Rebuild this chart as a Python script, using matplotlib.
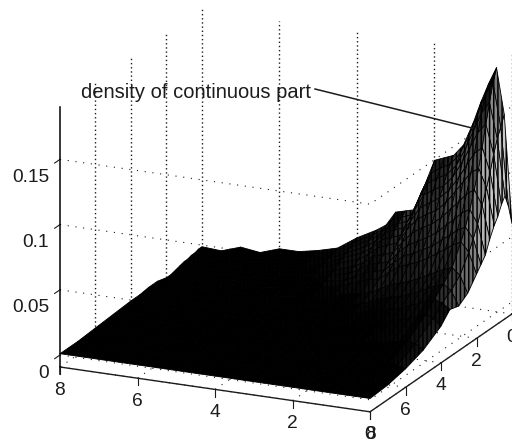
import numpy as np
import matplotlib
matplotlib.use('Agg')
import matplotlib.pyplot as plt
from matplotlib.lines import Line2D
from mpl_toolkits.mplot3d import proj3d

plt.rcParams['font.family'] = ['Liberation Sans', 'DejaVu Sans']
plt.rcParams['hatch.linewidth'] = 1.1

W, H = 512, 445

x_nodes = [0, .2, .4, .6, .8, 1, 1.25, 1.5, 1.75, 2, 2.25, 2.5, 2.75, 3, 3.25, 3.5, 4, 4.5, 5, 5.5, 6, 6.5, 7, 7.5, 8]
y_nodes = [0, .2, .4, .6, .8, 1, 1.25, 1.5, 1.75, 2, 2.5, 3, 3.5, 4, 5, 6, 7, 8]

# density, in thousandths, one row per y node
density = [
    [60, 143, 178, 165, 150, 133, 115, 106, 103, 100, 80, 60, 58, 56, 45, 40, 32, 22, 18, 15, 15, 10, 12, 7, 8],
    [75, 135, 168, 158, 142, 126, 110, 101, 97, 92, 76, 58, 55, 52, 43, 38, 30, 21, 17, 14, 13, 10, 11, 7, 8],
    [85, 128, 155, 146, 132, 118, 103, 95, 91, 86, 71, 55, 52, 49, 41, 36, 28, 20, 16, 13, 12, 9, 10, 7, 7],
    [80, 118, 140, 133, 121, 109, 96, 88, 84, 79, 66, 52, 49, 46, 38, 33, 26, 19, 15, 12, 11, 9, 9, 6, 7],
    [73, 106, 124, 119, 109, 99, 88, 81, 76, 71, 60, 48, 45, 42, 35, 30, 24, 17, 14, 11, 10, 8, 8, 6, 6],
    [68, 96, 110, 106, 98, 90, 80, 73, 69, 64, 55, 44, 41, 38, 32, 27, 22, 16, 13, 10, 9, 8, 7, 6, 6],
    [60, 85, 96, 92, 85, 79, 71, 65, 61, 56, 48, 39, 36, 34, 28, 24, 19, 14, 11, 9, 8, 7, 6, 5, 5],
    [50, 73, 83, 80, 74, 69, 62, 57, 53, 49, 42, 34, 32, 30, 25, 21, 17, 12, 10, 8, 7, 6, 5, 4, 4],
    [45, 64, 72, 69, 64, 60, 54, 50, 46, 43, 37, 30, 28, 26, 22, 18, 15, 11, 9, 7, 6, 5, 5, 4, 3],
    [40, 56, 63, 60, 56, 52, 47, 43, 40, 37, 32, 26, 24, 22, 19, 16, 13, 10, 8, 6, 6, 5, 4, 4, 3],
    [30, 43, 48, 46, 43, 40, 36, 33, 30, 28, 24, 20, 18, 17, 15, 12, 10, 8, 6, 5, 5, 4, 4, 3, 5],
    [25, 36, 40, 38, 35, 32, 29, 26, 24, 22, 19, 16, 15, 14, 12, 10, 8, 6, 5, 4, 4, 3, 3, 3, 5],
    [27, 31, 33, 31, 28, 26, 23, 21, 19, 18, 15, 13, 12, 11, 9, 8, 6, 5, 4, 3, 3, 3, 3, 3, 4],
    [19, 24, 26, 24, 22, 20, 18, 16, 15, 14, 12, 10, 9, 8, 7, 6, 5, 4, 3, 3, 3, 2, 2, 3, 4],
    [10, 14, 15, 14, 13, 12, 11, 10, 9, 8, 7, 6, 5, 5, 4, 4, 3, 2, 2, 2, 2, 2, 2, 2, 3],
    [5, 7, 8, 7, 7, 6, 6, 5, 5, 4, 4, 3, 3, 3, 2, 2, 2, 2, 1, 1, 1, 1, 1, 2, 2],
    [2, 3, 3, 3, 3, 3, 3, 2, 2, 2, 2, 2, 2, 1, 1, 1, 1, 1, 1, 1, 1, 1, 1, 1, 1],
    [1, 1, 1, 1, 1, 1, 1, 1, 1, 1, 1, 1, 1, 1, 1, 1, 1, 1, 1, 1, 1, 1, 1, 1, 1],
]

ticks = [0, 2, 4, 6, 8]
z_ticks = [0, .05, .1, .15]
z_labels = ['0', '0.05', '0.1', '0.15']
zlo, zhi = -.0092, .19

col = '#1c1c1c'
fs = 13.8

X, Y = np.meshgrid(x_nodes, y_nodes)
Z = np.array(density) / 1000.

fig = plt.figure(figsize=(W/100, H/100), dpi=100)
ax = fig.add_axes([0, 0, 1, 1], projection='3d', proj_type='ortho', computed_zorder=False)
ax.view_init(elev=18.4, azim=114.6)
ax.set_box_aspect((340, 340, 273))
ax.set_xlim(0, 8)
ax.set_ylim(0, 8)
ax.set_zlim(zlo, zhi)
ax.set_axis_off()
ax.patch.set_alpha(0)

# grid, vertical lines on the back walls
for t in ticks:
    if t < 8:
        ax.plot([8, 8], [t, t], [zlo, zhi], color=col, lw=1, ls=(0, (1, 2)), zorder=1)
        ax.plot([t, t], [0, 0], [zlo, zhi], color=col, lw=1, ls=(0, (1, 2)), zorder=1)
    ax.plot([0, 8], [t, t], [zlo, zlo], color=col, lw=.8, ls=(0, (1, 6)), zorder=1)
    ax.plot([t, t], [0, 8], [zlo, zlo], color=col, lw=.8, ls=(0, (1, 6)), zorder=1)

for z in z_ticks:
    ax.plot([8, 0, 0], [8, 8, 0], [z, z, z], color=col, lw=.8, ls=(0, (1, 6)), zorder=1)
    ax.plot([8, 8], [8, 8.3], [z, z], color=col, lw=.8, zorder=3)

# mesh, dense in the picture so only the steep part shows any light
dz_y, dz_x = np.gradient(Z, y_nodes, x_nodes)
tone = np.clip(np.hypot(dz_x, dz_y) * 6 - .06, 0, .8) * (1 - (Z / Z.max())**4)
surf = ax.plot_surface(X, Y, Z, facecolors=plt.cm.gray(tone), edgecolor='k', linewidth=.6,
                       rstride=1, cstride=1, shade=False, zorder=2)
surf.set_hatch('||||')

# box
ax.plot([8, 0, 0], [8, 8, 0], [zlo, zlo, zlo], color=col, lw=1, zorder=3)
ax.plot([8, 8], [8, 8], [zlo - .005, zhi], color='k', lw=1.1, zorder=3)
for t in ticks:
    ax.plot([t, t], [8, 8], [zlo, zlo - .0055], color=col, lw=.8, zorder=3)
    ax.plot([0, 0], [t, t], [zlo, zlo - .0055], color=col, lw=.8, zorder=3)


def to_px(x, y, z):
    u, v, _ = proj3d.proj_transform(x, y, z, ax.get_proj())
    return ax.transData.transform((u, v))


# fit the box on the corners
ax.apply_aspect()
p1, p2 = to_px(8, 8, zlo), to_px(0, 0, zlo)
S = 445 * 452. / (p2[0] - p1[0])
ax.set_position([0, 0, S/W, S/H])
ax.apply_aspect()
p1 = to_px(8, 8, zlo)
dx, dy = 60 - p1[0], (H - 367) - p1[1]
ax.set_position([dx/W, dy/H, S/W, S/H])
ax.apply_aspect()

for t in ticks:
    px = to_px(t, 8, zlo - .0177)
    fig.text(px[0]/W, px[1]/H, str(t), color=col, fontsize=fs, ha='center', va='center')
    px = to_px(0, t, zlo - .0177)
    fig.text(px[0]/W, px[1]/H, str(t), color=col, fontsize=fs, ha='center', va='center')

for z, lab in zip(z_ticks, z_labels):
    px = to_px(8, 8.62, z - .008)
    fig.text(px[0]/W, px[1]/H, lab, color=col, fontsize=fs, ha='right', va='center')

fig.text(81/W, 1 - 92/H, 'density of continuous part', color=col, fontsize=14.5, ha='left', va='center')
fig.add_artist(Line2D([315/W, 472/W], [1 - 89/H, 1 - 128/H], color=col, lw=1.1))

fig.savefig('out.png', dpi=100)
